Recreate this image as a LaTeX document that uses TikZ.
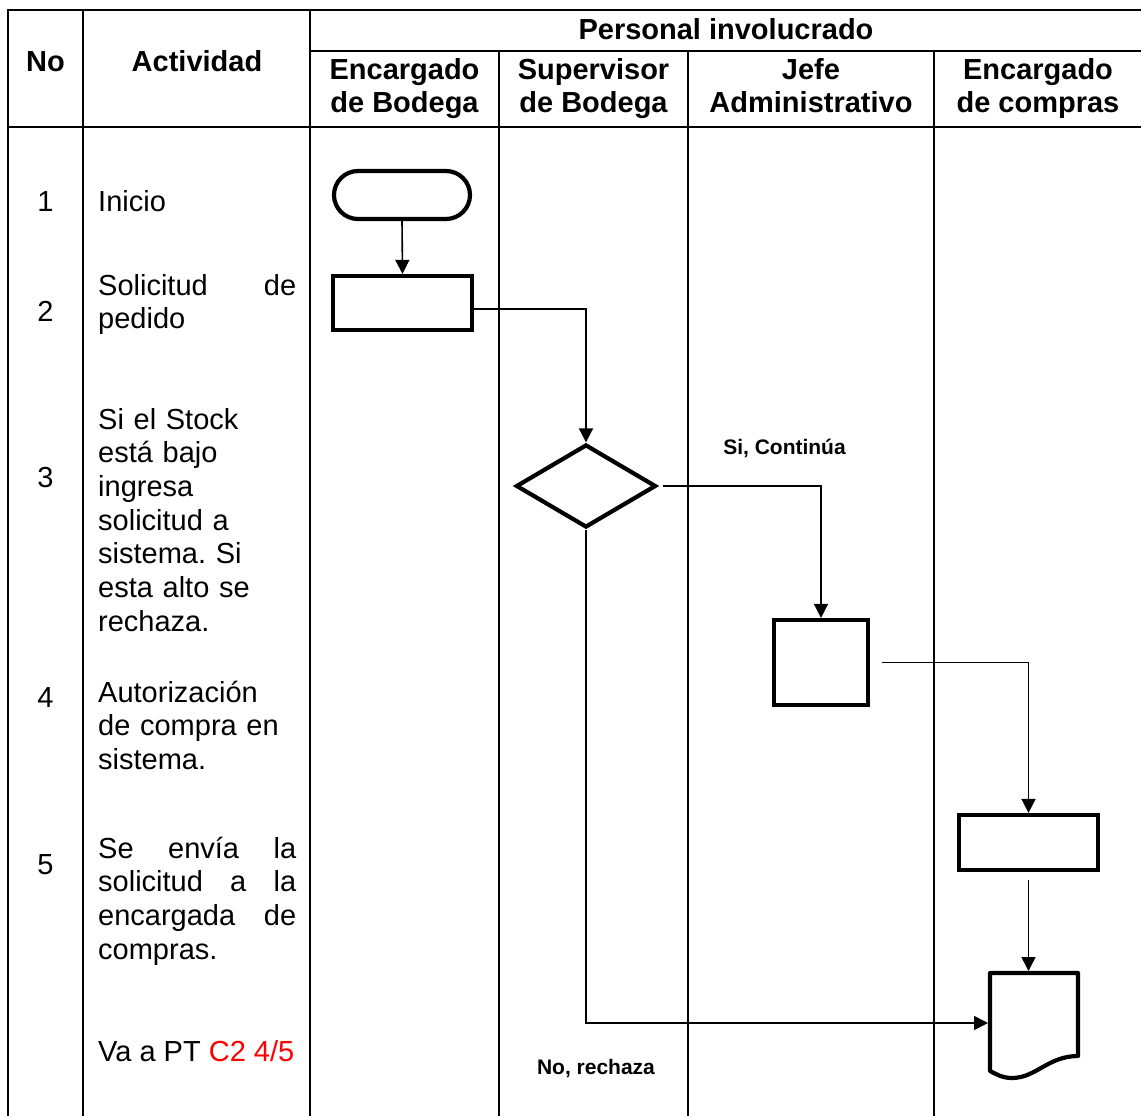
\documentclass[tikz,border=0pt]{standalone}
\usepackage{fontspec}
\setmainfont{Liberation Sans}
\usetikzlibrary{arrows.meta,shapes.geometric}
\frenchspacing

\begin{document}
\begin{tikzpicture}[x=1pt,y=-1pt,
  grid/.style={line width=2pt},
  shapeline/.style={draw, line width=4.2pt, fill=white, inner sep=0pt},
  conn/.style={line width=1.6pt, -{Triangle[length=14pt,width=14pt]}},
  body/.style={inner sep=0pt, font=\fontsize{29}{33.7}\selectfont},
  head/.style={inner sep=0pt, align=center, anchor=base, font=\bfseries\fontsize{29}{33}\selectfont},
  act/.style={body, anchor=base west, text width=204pt, align=left},
  num/.style={body, anchor=base},
  flow/.style={inner sep=0pt, anchor=base, font=\bfseries\fontsize{21}{24}\selectfont},
]
\useasboundingbox (0,0) rectangle (1141,1116);
% a full-width justified line: words separated by \hfill
\newcommand{\jline}[1]{\makebox[198pt]{#1}}

% table grid
\draw[grid] (8,1116) -- (8,10) -- (1141,10);
\draw[grid] (83,10) -- (83,1116);
\draw[grid] (310,10) -- (310,1116);
\draw[grid] (310,51) -- (1141,51);
\draw[grid] (8,127) -- (1141,127);
\foreach \x in {499,688,934} \draw[grid] (\x,51) -- (\x,1116);

% header (base anchor sits on the last line)
\node[head] (hno) at (45.5,71.5) {No};
\node[head] (hact) at (197,71.5) {Actividad};
\node[head] (hper) at (726,39.5) {Personal involucrado};
\node[head] (hc1) at (404.5,112.5) {Encargado\\de Bodega};
\node[head] (hc2) at (593.5,112.5) {Supervisor\\de Bodega};
\node[head] (hc3) at (811,112.5) {Jefe\\Administrativo};
\node[head] (hc4) at (1038,112.5) {Encargado\\de compras};

% step numbers
\node[num] (n1) at (45.5,211) {1};
\node[num] (n2) at (45.5,321) {2};
\node[num] (n3) at (45.5,487) {3};
\node[num] (n4) at (45.5,707) {4};
\node[num] (n5) at (45.5,874) {5};

% activities
\node[act] (a1) at (98,211) {Inicio};
\node[act] (a2) at (98,295) {\jline{Solicitud\hfill de}\\pedido};
\node[act] (a3) at (98,429) {Si el Stock\\está bajo\\ingresa\\solicitud a\\sistema. Si\\esta alto se\\rechaza.};
\node[act] (a4) at (98,702) {Autorización\\de compra en\\sistema.};
\node[act] (a5) at (98,858) {\jline{Se\hfill envía\hfill la}\\\jline{solicitud\hfill a\hfill la}\\\jline{encargada\hfill de}\\compras.};
\node[body, anchor=base west] (a6) at (98,1061) {Va a PT \textcolor{red}{C2 4/5}};

% flow shapes
\node[shapeline, rectangle, rounded corners=24pt, minimum width=136pt, minimum height=48pt] (start) at (402,195) {};
\node[shapeline, rectangle, minimum width=139pt, minimum height=54pt] (p1) at (402.5,303) {};
\node[shapeline, diamond, minimum width=140pt, minimum height=83pt] (dec) at (586,486) {};
\node[shapeline, rectangle, minimum width=94pt, minimum height=85pt] (p2) at (821,662.5) {};
\node[shapeline, rectangle, minimum width=139pt, minimum height=55pt] (p3) at (1028.5,842.5) {};

% document symbol
\node[inner sep=0pt, outer sep=2pt, minimum width=88pt, minimum height=100pt] (doc) at (1034,1023) {};
\draw[line width=4.2pt, line join=round]
  (990,973) -- (1078,973) -- (1078,1056)
  .. controls (1048,1056) and (1036,1078) .. (1012,1078)
  .. controls (1002,1078) and (996,1074) .. (990,1071) -- cycle;

% connectors
\draw[conn] (start.south) -- (p1.north);
\draw[conn] ([yshift=-6pt]p1.east) -| (dec.north);
\draw[conn, shorten <=5pt] (dec.east) -| (p2.north);
\draw[conn, shorten <=12pt] (p2.east) -| (p3.north);
\draw[conn, shorten <=8pt] (p3.south) -- (p3.south |- doc.north);
\draw[conn] (dec.south) |- (doc.west);

% branch labels
\node[flow] (lyes) at (784.5,454) {Si, Continúa};
\node[flow] (lno) at (596,1074) {No, rechaza};
\end{tikzpicture}
\end{document}
